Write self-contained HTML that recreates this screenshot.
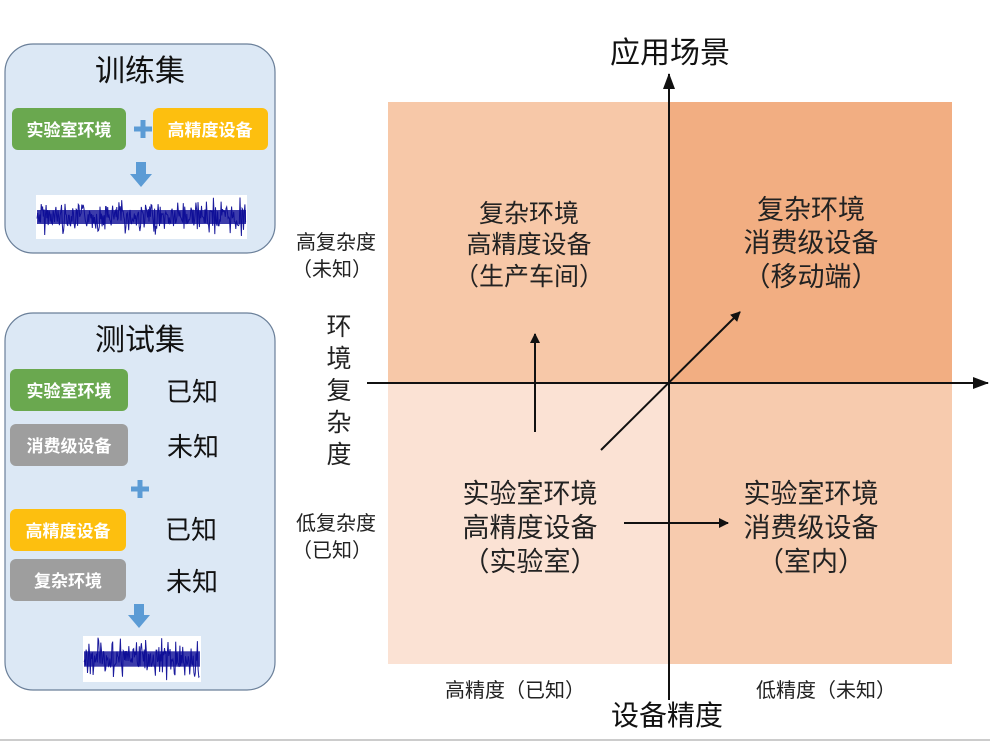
<!DOCTYPE html>
<html><head><meta charset="utf-8"><style>
body{margin:0;background:#fff;width:990px;height:742px;overflow:hidden;font-family:"Liberation Sans","Noto Sans CJK SC",sans-serif}
</style></head><body>
<svg width="990" height="742" viewBox="0 0 990 742" xmlns="http://www.w3.org/2000/svg" style="position:absolute;left:0;top:0;font-family:'Liberation Sans','Noto Sans CJK SC',sans-serif">
<defs>
<marker id="ah" markerWidth="10" markerHeight="10" refX="9" refY="5" orient="auto" markerUnits="userSpaceOnUse"><path d="M0,0 L10,5 L0,10 z" fill="#111"/></marker>
<marker id="ah2" markerWidth="16" markerHeight="12" refX="15" refY="6" orient="auto" markerUnits="userSpaceOnUse"><path d="M0,0 L16,6 L0,12 z" fill="#111"/></marker>
</defs>
<rect x="5" y="44" width="270" height="209" rx="28" fill="#dce8f5" stroke="#6a7f99" stroke-width="1.2"/>
<text x="140" y="81" font-size="30" text-anchor="middle" fill="#111">训练集</text>
<rect x="12" y="108" width="114" height="42" rx="6" fill="#6aa84f"/>
<text x="69" y="136" font-size="17" font-weight="bold" text-anchor="middle" fill="#fff">实验室环境</text>
<rect x="153" y="108" width="115" height="42" rx="6" fill="#fdbf0f"/>
<text x="210" y="136" font-size="17" font-weight="bold" text-anchor="middle" fill="#fff">高精度设备</text>
<path d="M134,129 h18 M143,120 v18" stroke="#5b9bd5" stroke-width="5"/>
<path d="M136,162 h10 v12 h6 l-11,13 l-11,-13 h6 z" fill="#5b9bd5"/>
<rect x="36" y="195" width="211" height="44" fill="#fff"/>
<g id="w1"></g>

<rect x="5" y="313" width="270" height="377" rx="28" fill="#dce8f5" stroke="#6a7f99" stroke-width="1.2"/>
<text x="140" y="350" font-size="30" text-anchor="middle" fill="#111">测试集</text>
<rect x="10" y="369" width="118" height="42" rx="6" fill="#6aa84f"/>
<text x="69" y="397" font-size="17" font-weight="bold" text-anchor="middle" fill="#fff">实验室环境</text>
<rect x="10" y="424" width="118" height="42" rx="6" fill="#9e9e9e"/>
<text x="69" y="452" font-size="17" font-weight="bold" text-anchor="middle" fill="#fff">消费级设备</text>
<rect x="10" y="509" width="116" height="42" rx="6" fill="#fdbf0f"/>
<text x="68" y="537" font-size="17" font-weight="bold" text-anchor="middle" fill="#fff">高精度设备</text>
<rect x="10" y="559" width="116" height="42" rx="6" fill="#9e9e9e"/>
<text x="68" y="587" font-size="17" font-weight="bold" text-anchor="middle" fill="#fff">复杂环境</text>
<text x="192" y="401" font-size="26" text-anchor="middle" fill="#111">已知</text>
<text x="193" y="456" font-size="26" text-anchor="middle" fill="#111">未知</text>
<text x="191" y="539" font-size="26" text-anchor="middle" fill="#111">已知</text>
<text x="192" y="591" font-size="26" text-anchor="middle" fill="#111">未知</text>
<path d="M131,489 h18 M140,480 v18" stroke="#5b9bd5" stroke-width="5"/>
<path d="M134,604 h10 v11 h6 l-11,13 l-11,-13 h6 z" fill="#5b9bd5"/>
<rect x="83" y="636" width="118" height="46" fill="#fff"/>
<g id="w2"></g>

<rect x="388" y="102" width="282" height="281" fill="#f7c8a8"/>
<rect x="670" y="102" width="282" height="281" fill="#f2ae82"/>
<rect x="388" y="383" width="282" height="281" fill="#fbe2d4"/>
<rect x="670" y="383" width="282" height="281" fill="#f7cbae"/>
<line x1="669" y1="700" x2="669" y2="74" stroke="#111" stroke-width="2" marker-end="url(#ah2)"/>
<line x1="367" y1="383" x2="988" y2="383" stroke="#111" stroke-width="2" marker-end="url(#ah2)"/>
<line x1="535" y1="432" x2="535" y2="334" stroke="#111" stroke-width="2" marker-end="url(#ah)"/>
<line x1="601" y1="450" x2="740" y2="312" stroke="#111" stroke-width="2" marker-end="url(#ah)"/>
<line x1="624" y1="523" x2="728" y2="523" stroke="#111" stroke-width="2" marker-end="url(#ah)"/>

<g font-size="25" text-anchor="middle" fill="#222">
<text x="529" y="222">复杂环境</text>
<text x="529" y="253">高精度设备</text>
<text x="529" y="285">（生产车间）</text>
</g>
<g font-size="27" text-anchor="middle" fill="#222">
<text x="811" y="219">复杂环境</text>
<text x="811" y="252">消费级设备</text>
<text x="811" y="286">（移动端）</text>
<text x="530" y="503">实验室环境</text>
<text x="530" y="537">高精度设备</text>
<text x="530" y="571">（实验室）</text>
<text x="811" y="503">实验室环境</text>
<text x="811" y="537">消费级设备</text>
<text x="811" y="571">（室内）</text>
</g>
<text x="670" y="63" font-size="30" text-anchor="middle" fill="#111">应用场景</text>
<text x="667" y="725" font-size="28" text-anchor="middle" fill="#111">设备精度</text>
<g font-size="20" text-anchor="middle" fill="#222">
<text x="515" y="697">高精度（已知）</text>
<text x="826" y="697">低精度（未知）</text>
<text x="336" y="249">高复杂度</text>
<text x="332" y="276">（未知）</text>
<text x="336" y="530">低复杂度</text>
<text x="332" y="557">（已知）</text>
</g>
<g font-size="25" text-anchor="middle" fill="#222">
<text x="339" y="335">环</text>
<text x="339" y="367">境</text>
<text x="339" y="399">复</text>
<text x="339" y="431">杂</text>
<text x="339" y="463">度</text>
</g>
<line x1="0" y1="740" x2="990" y2="740" stroke="#ccc" stroke-width="2"/>
</svg>
<script>
function wave(id,x0,x1,yc,amp,seed){
 var s=seed,p=[];function r(){s=(s*9301+49297)%233280;return s/233280;}
 for(var x=x0;x<=x1;x+=0.7){var a=amp*(0.3+0.7*r());p.push(x.toFixed(1)+","+(yc+(r()-0.5)*2*a).toFixed(1));}
 var g=document.getElementById(id);
 g.innerHTML='<polyline points="'+p.join(" ")+'" fill="none" stroke="#1a1a9c" stroke-width="1"/><rect x="'+x0+'" y="'+(yc-amp*0.35)+'" width="'+(x1-x0)+'" height="'+(amp*0.7)+'" fill="#0b0b96" opacity="0.8"/>';
}
wave("w1",37,246,217,20,7);
wave("w2",84,200,659,22,13);
</script>
</body></html>
